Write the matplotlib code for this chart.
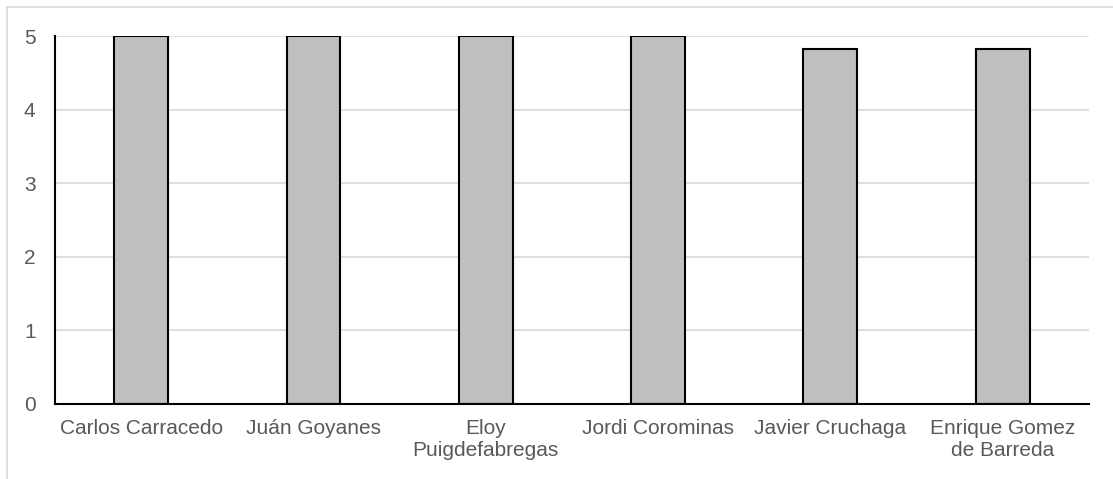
import matplotlib.pyplot as plt
from matplotlib.lines import Line2D

Names = ["Carlos Carracedo", "Juán Goyanes", "Eloy\nPuigdefabregas",
         "Jordi Corominas", "Javier Cruchaga", "Enrique Gomez\nde Barreda"]
Scores = [5, 5, 5, 5, 4.83, 4.83]
yTicks = [0, 1, 2, 3, 4, 5]

plt.rcParams['font.family'] = ['Liberation Sans', 'DejaVu Sans']

fig = plt.figure(figsize=(11.13, 4.79), dpi=100)
ax = fig.add_axes([0.0494, 0.1566, 0.929, 0.7682])

x = range(len(Names))
ax.bar(x, Scores, width=0.313, color='#bfbfbf', edgecolor='black', linewidth=1.5, zorder=3)

ax.set_xlim(-0.5, len(Names) - 0.5)
ax.set_ylim(0, 5)
ax.set_yticks(yTicks)
ax.set_xticks(list(x))
ax.set_xticklabels(Names, fontsize=15, color='#595959', linespacing=1.2)
ax.tick_params(axis='y', labelsize=15, labelcolor='#595959', length=0, pad=14)
ax.tick_params(axis='x', length=0, pad=11)
ax.grid(axis='y', color='#d9d9d9', linewidth=1.2, zorder=0)

for s in ['top', 'right']:
    ax.spines[s].set_visible(False)
for s in ['left', 'bottom']:
    ax.spines[s].set_color('black')
    ax.spines[s].set_linewidth(1.5)
    ax.spines[s].set_zorder(4)

# light frame of the chart area (top and left visible)
fig.add_artist(Line2D([7/1113, 1], [1 - 7/479, 1 - 7/479], color='#d9d9d9', linewidth=1.2))
fig.add_artist(Line2D([7/1113, 7/1113], [0, 1 - 7/479], color='#d9d9d9', linewidth=1.2))

fig.savefig('out.png', dpi=100)
